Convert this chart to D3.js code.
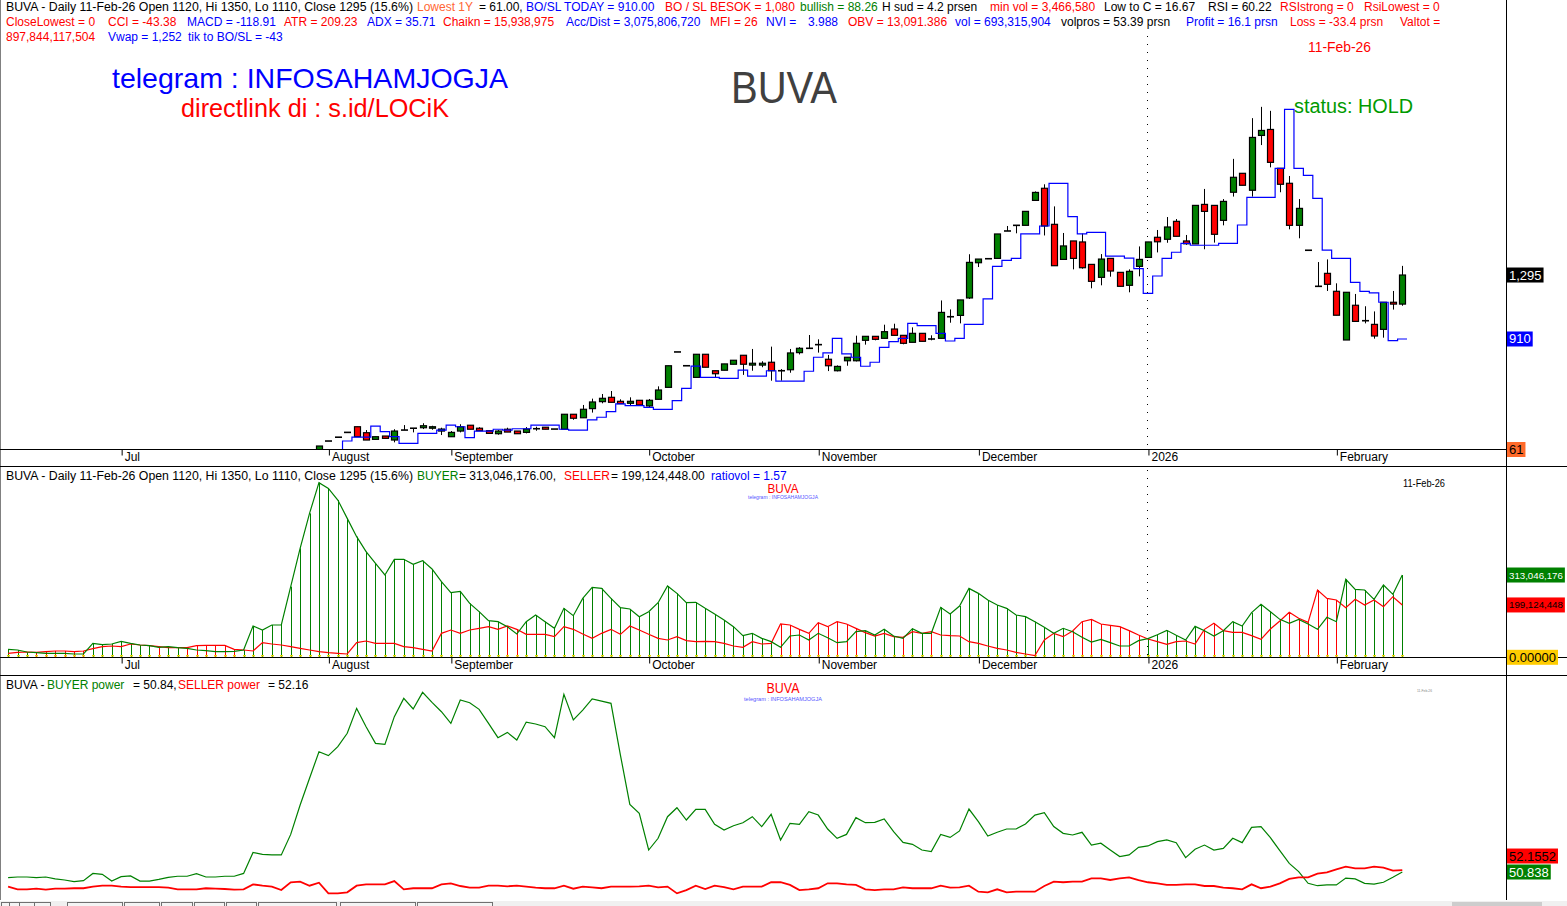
<!DOCTYPE html>
<html><head><meta charset="utf-8">
<script src="https://cdn.jsdelivr.net/npm/d3@7/dist/d3.min.js"></script>
<style>
html,body{margin:0;padding:0;background:#fff;}
svg{display:block;}
text{font-family:"Liberation Sans",Arial,Helvetica,sans-serif;}
</style></head>
<body><svg id="chart" width="1567" height="906"></svg>
<script>
// ---------------- DATA ----------------
const monthTicks  = [12, 34, 47, 68, 86, 103, 121, 141];
const monthLabels = ["Jul","August","September","October","November","December","2026","February"];

// candles: first visible bar index
const candleStart = 33;
const openP  = [240,296,319,348,382,346,306,326,302,362,373,376,373,356,322,356,391,373,358,340,367,356,348,370,379,368,367,457,436,491,533,559,535,523,541,507,547,619,832,749,679,818,719,722,758,812,753,753,770,719,725,828,854,876,788,719,779,779,902,926,914,970,932,890,944,910,914,1044,1052,1157,1369,1393,1395,1560,1594,1594,1744,1817,1600,1389,1500,1494,1359,1281,1395,1311,1233,1347,1401,1522,1510,1618,1500,1482,1720,1714,1624,1793,1907,1805,2135,2171,1937,1847,1594,1444,1227,1305,1197,904,1113,1020,998,968,1131,1120];
const highP  = [266,296,319,348,382,362,322,326,367,392,373,403,388,376,356,397,391,379,358,362,376,356,380,382,379,368,457,457,513,551,579,597,547,559,541,549,625,749,832,749,818,818,719,760,782,812,850,776,864,729,850,861,934,908,814,751,800,930,926,926,996,1002,932,980,944,932,1142,1088,1145,1420,1391,1393,1542,1590,1594,1678,1798,1841,1708,1548,1500,1545,1359,1421,1395,1311,1329,1467,1494,1566,1644,1632,1536,1714,1813,1714,1752,1994,1907,2239,2307,2283,1937,1891,1752,1444,1373,1389,1245,1191,1181,1107,1076,1131,1199,1350];
const lowP   = [240,296,319,348,322,302,306,312,288,362,348,368,364,332,322,348,367,358,342,334,350,340,342,358,367,368,367,424,436,467,523,529,521,511,513,495,547,619,832,749,679,740,679,722,758,694,719,740,659,659,707,817,854,828,717,715,749,775,876,902,914,932,878,890,896,902,914,1008,1004,1151,1343,1393,1395,1560,1546,1594,1744,1533,1351,1389,1329,1333,1215,1233,1285,1227,1191,1287,1401,1431,1489,1528,1477,1482,1450,1490,1594,1767,1835,1767,2077,1943,1793,1570,1516,1444,1227,1199,1053,904,1016,1004,912,918,1087,1110];
const closeP = [266,296,319,348,322,302,322,312,356,362,373,388,382,368,348,382,367,358,342,356,350,340,368,370,367,368,457,433,487,531,553,529,521,535,513,541,603,749,832,749,818,740,701,760,782,758,764,764,719,719,826,854,854,876,749,745,800,884,926,908,954,932,884,944,896,910,1070,1044,1145,1371,1391,1393,1542,1560,1594,1678,1792,1590,1351,1470,1395,1339,1257,1391,1319,1227,1317,1389,1494,1495,1584,1528,1483,1714,1678,1540,1738,1883,1835,2123,2165,1973,1841,1594,1696,1444,1227,1239,1053,1191,1016,1020,928,1131,1120,1295];

// trailing BO/SL line, from bar index stopStart
const stopStart = 35;
const stopLine = [240,296,319,319,386,352,322,282,282,342,
342,362,392,382,316,356,356,367,362,370,
370,392,392,392,367,362,362,423,439,473,
519,509,509,499,487,487,539,613,747,679,
679,673,673,723,687,687,719,657,657,657,
716,800,826,914,820,800,746,770,860,894,
914,1004,990,990,944,898,914,998,998,1151,
1347,1383,1395,1542,1542,1590,1847,1847,1646,1542,
1552,1552,1409,1409,1397,1333,1185,1289,1395,1432,
1486,1474,1474,1474,1486,1486,1596,1762,1762,1762,
1937,2292,1937,1895,1756,1445,1395,1395,1251,1197,
1187,1131,900,910];

// BUYER / SELLER volume (millions)
const buyerVol = [30.3,27.8,20.2,17.6,15.1,15.1,15.1,12.6,12.6,53.1,
48.1,50.6,60.7,53.1,46.8,44.3,37.9,40.4,36.6,34.1,
27.8,25.2,21.4,21.4,22.7,27.8,119.1,103.8,122.9,122.9,
268.7,414.5,547.6,664.3,642.7,598.4,528.6,458.9,401.8,357.4,
313.1,372.7,372.7,353.6,367.6,335.9,287.7,245.9,250.9,205.3,
173.6,139.4,135.5,116.5,88.6,135.5,160.9,135.5,110.2,186.3,
158.4,224.3,266.2,262.3,224.3,188.8,183.7,154.6,173.6,207.8,
271.2,243.3,207.8,209.1,186.3,164.7,141.9,116.5,82.3,91.2,
72.1,59.5,37.9,81.0,84.8,65.8,91.2,74.7,55.7,59.5,
97.5,101.3,84.8,106.4,81.0,72.1,108.9,91.2,91.2,190.1,
164.7,195.1,262.3,243.3,218.0,198.9,186.3,160.9,154.6,135.5,
114.0,91.2,110.3,97.5,76.0,58.2,68.3,55.7,43.0,43.0,
63.3,70.9,86.0,102.6,83.6,65.8,117.8,101.3,81.0,101.3,
135.5,119.1,169.8,201.4,173.6,144.4,129.2,144.4,126.7,106.4,
152.1,135.5,296.6,258.6,256.0,220.6,275.0,239.6,313.046];
const sellerVol = [15.1,18.9,20.2,18.9,21.4,24.0,24.0,21.4,24.0,32.8,
40.4,43.0,40.4,50.6,46.8,44.3,40.4,36.6,36.6,36.6,
44.3,45.5,45.5,45.5,30.3,27.8,24.0,55.7,50.6,46.8,
40.4,34.1,27.8,21.4,17.6,15.1,12.6,55.7,62.0,53.1,
53.1,53.1,40.4,36.6,30.3,24.0,91.2,103.8,91.2,103.8,
110.2,116.5,106.4,119.1,106.4,87.4,87.4,87.4,78.5,116.5,
106.4,88.6,72.1,91.2,106.4,87.4,119.1,103.8,87.4,72.1,
65.8,78.5,63.3,59.5,60.7,59.5,53.1,43.0,37.9,59.5,
50.6,53.1,126.7,122.9,106.4,91.2,131.7,116.5,135.5,126.7,
110.2,93.7,81.0,91.2,78.5,76.0,97.5,91.2,97.5,84.8,
82.3,81.0,59.5,53.1,43.0,34.1,27.8,18.9,12.6,6.2,
65.8,91.2,78.5,100.0,135.5,144.4,126.7,121.6,116.5,101.3,
84.8,69.6,59.5,49.3,59.5,62.0,50.6,106.4,129.2,101.3,
95.0,95.0,82.3,68.3,107.6,138.0,171.1,148.3,133.0,256.0,
224.3,217.9,188.7,220.6,198.9,217.9,192.5,230.5,199.124];

// BUYER power / SELLER power
const buyerPower = [47.1,47.5,47.5,47.1,47.5,46.2,45.5,44.4,45.1,49.9,
49.3,44.8,47.7,48.2,44.8,44.8,45.9,47.3,48.0,48.0,
49.7,47.5,47.5,48.0,48.0,49.9,63.9,62.6,62.2,62.2,
75.9,95.5,113.3,131.0,128.4,134.4,143.3,159.9,147.7,136.6,
135.9,154.4,166.6,159.5,170.6,163.9,157.7,149.9,165.5,163.7,
159.3,149.9,140.4,143.9,138.8,150.8,149.5,147.7,140.4,169.3,
152.2,158.8,166.2,164.8,163.3,128.8,95.9,89.9,65.5,73.3,
87.7,93.7,85.5,92.6,92.6,82.6,78.8,81.7,83.7,87.7,
81.1,89.3,72.2,83.3,82.6,91.1,88.8,79.5,73.3,75.9,
87.1,83.7,83.9,86.2,77.7,70.6,69.3,65.5,64.4,75.9,
73.9,78.2,92.8,84.4,74.8,77.3,79.5,79.5,82.8,88.8,
90.4,81.1,76.6,75.5,77.3,68.8,70.0,65.5,61.1,62.2,
67.3,68.2,71.1,72.2,70.4,60.4,66.0,68.8,65.5,66.6,
73.3,70.4,80.6,81.1,73.7,65.1,56.6,51.1,43.3,41.7,
42.2,42.2,46.8,46.2,43.3,42.8,44.0,47.3,50.838];
const sellerPower = [41.1,39.3,39.3,39.7,39.1,39.7,39.7,40.0,40.0,41.1,
41.7,41.7,41.1,40.8,40.8,40.8,40.8,40.4,39.3,39.3,
39.3,40.0,39.7,39.5,39.1,39.3,42.6,41.7,41.1,38.8,
44.0,44.4,41.7,43.7,36.6,36.6,37.3,41.7,42.6,42.6,
42.6,44.8,39.3,40.0,40.0,40.0,42.6,43.3,41.5,40.4,
40.4,41.7,41.7,41.3,41.7,41.1,40.4,40.0,40.0,41.7,
39.7,41.1,40.6,40.0,41.1,41.1,41.1,41.3,41.7,40.6,
41.1,36.6,38.8,41.7,39.5,41.7,40.8,39.3,41.1,41.1,
41.1,44.0,44.0,42.2,38.8,39.3,40.0,43.3,43.3,42.6,
42.2,39.3,38.8,39.3,39.3,40.6,40.0,40.0,40.0,41.7,
40.4,40.6,41.7,37.7,37.3,39.3,37.3,37.7,37.7,37.7,
41.5,44.4,44.0,44.4,44.4,46.6,46.6,45.5,46.6,47.3,
45.5,44.0,43.3,42.2,42.2,42.6,42.6,41.5,41.5,40.4,
40.0,39.3,42.6,40.0,41.1,43.3,46.2,47.3,47.3,49.7,
50.6,52.6,54.4,53.3,53.3,54.4,53.7,51.7,52.1552];

const lastClose = 1295, bosl = 910, lowest1Y = 61;
const buyerLast = "313,046,176", sellerLast = "199,124,448";

// ---------------- CHART ----------------
const GREEN = "#008000", RED = "#ff0000", BLUE = "#0000ff";
const HF = 12; // header font size
const svg = d3.select("#chart");
const N = buyerVol.length;

const x = d3.scaleLinear().domain([0, N - 1]).range([8.1, 1402.3]);
const yTop = d3.scaleLinear().domain([248, 2950]).range([449, 0]);
const yMid = d3.scaleLinear().domain([0, 700]).range([657.3, 473.3]);
const yBot = d3.scaleLinear().domain([50.838, 150.838]).range([872, 722]);

const defs = svg.append("defs");
defs.append("clipPath").attr("id","clipTop").append("rect").attr("x",0).attr("y",0).attr("width",1506).attr("height",449);
defs.append("clipPath").attr("id","clipMid").append("rect").attr("x",0).attr("y",467).attr("width",1506).attr("height",190.5);
defs.append("clipPath").attr("id","clipBot").append("rect").attr("x",0).attr("y",676).attr("width",1506).attr("height",224);

function txt(xp, yp, s, color, size, extra) {
  const t = svg.append("text").attr("x", xp).attr("y", yp).attr("fill", color)
    .attr("font-size", size).text(s);
  if (extra) {
    if (extra.len) t.attr("textLength", extra.len).attr("lengthAdjust","spacingAndGlyphs");
    if (extra.anchor) t.attr("text-anchor", extra.anchor);
  }
  return t;
}

// ---- header text lines ----
const header = [
 [11, [[6,"#000","BUVA - Daily 11-Feb-26 Open 1120, Hi 1350, Lo 1110, Close 1295 (15.6%)",407],
       [417,"#ff6633","Lowest 1Y"],[479,"#000","= 61.00,"],[526,BLUE,"BO/SL TODAY = 910.00"],
       [665,RED,"BO / SL BESOK  = 1,080"],[800,GREEN,"bullish = 88.26"],[882,"#000","H sud = 4.2 prsen"],
       [990,RED,"min vol = 3,466,580"],[1104,"#000","Low to C  = 16.67"],[1208,"#000","RSI = 60.22"],
       [1280,RED,"RSIstrong = 0"],[1364,RED,"RsiLowest = 0"]]],
 [26, [[6,RED,"CloseLowest = 0"],[108,RED,"CCI = -43.38"],[187,BLUE,"MACD = -118.91"],[284,RED,"ATR = 209.23"],
       [367,BLUE,"ADX = 35.71"],[443,RED,"Chaikn = 15,938,975"],[566,BLUE,"Acc/Dist = 3,075,806,720"],
       [710,RED,"MFI = 26"],[766,BLUE,"NVI ="],[808,BLUE,"3.988"],[848,RED,"OBV = 13,091.386"],
       [955,BLUE,"vol = 693,315,904"],[1061,"#000","volpros = 53.39 prsn"],[1186,BLUE,"Profit = 16.1 prsn"],
       [1290,RED,"Loss = -33.4 prsn"],[1400,RED,"Valtot ="]]],
 [41, [[6,RED,"897,844,117,504"],[108,BLUE,"Vwap = 1,252"],[188,BLUE,"tik to BO/SL = -43"]]]
];
header.forEach(([yy, segs]) => segs.forEach(([xx, c, s, L]) => txt(xx, yy, s, c, HF, L ? {len: L} : null)));

txt(112, 88, "telegram : INFOSAHAMJOGJA", BLUE, 28, {len: 396});
txt(181, 117, "directlink di : s.id/LOCiK", RED, 25, {len: 268});
txt(731, 103, "BUVA", "#404040", 45, {len: 106});
txt(1308, 52, "11-Feb-26", RED, 14, {len: 63});
txt(1294, 113, "status: HOLD", "#009a00", 20, {len: 119});

// ---- frame lines ----
function hline(y, x1, x2, c, w) { svg.append("line").attr("x1",x1).attr("x2",x2).attr("y1",y).attr("y2",y).attr("stroke",c||"#000").attr("stroke-width",w||1); }
function vline(xx, y1, y2, c, w, dash) { const l = svg.append("line").attr("x1",xx).attr("x2",xx).attr("y1",y1).attr("y2",y2).attr("stroke",c||"#000").attr("stroke-width",w||1); if (dash) l.attr("stroke-dasharray",dash); return l; }

vline(0.5, 0, 900, "#808080");
vline(1506.5, 0, 900);
hline(449.5, 0, 1506);
hline(466.5, 0, 1567);
hline(657.5, 0, 1567);
hline(675.5, 0, 1567);

// year separator dotted line
const sepX = Math.round(x(monthTicks[6])) - 0.5;
vline(sepX, 36, 449, "#000", 1, "1,7");
vline(sepX, 470, 657, "#000", 1, "1,7");

// ---- axes ----
function monthAxis(yy) {
  const g = svg.append("g").attr("transform", `translate(0,${yy})`)
    .call(d3.axisBottom(x).tickValues(monthTicks).tickFormat((d, k) => monthLabels[k]).tickSize(6));
  g.select(".domain").remove();
  g.selectAll(".tick line").attr("stroke", "#000").attr("transform","translate(0.5,0)");
  g.selectAll(".tick text").attr("text-anchor","start").attr("x", 3).attr("y", 2.5)
    .attr("fill","#000").attr("font-size", 12)
    .attr("font-family", '"Liberation Sans",Arial,sans-serif');
}
monthAxis(449.5);
monthAxis(657.5);

// ---- candles ----
const candles = openP.map((o, k) => ({i: candleStart + k, o, h: highP[k], l: lowP[k], c: closeP[k]}));
const gTop = svg.append("g").attr("clip-path","url(#clipTop)");
gTop.selectAll("line.wick").data(candles).join("line").attr("class","wick")
  .attr("x1", d => Math.round(x(d.i)) + 0.5).attr("x2", d => Math.round(x(d.i)) + 0.5)
  .attr("y1", d => yTop(d.h)).attr("y2", d => yTop(d.l)).attr("stroke","#000");
gTop.selectAll("rect.body").data(candles.filter(d => d.o !== d.c)).join("rect").attr("class","body")
  .attr("x", d => Math.round(x(d.i)) - 2.5).attr("width", 6)
  .attr("y", d => yTop(Math.max(d.o, d.c))).attr("height", d => Math.abs(yTop(d.o) - yTop(d.c)))
  .attr("fill", d => d.c > d.o ? GREEN : RED).attr("stroke","#000").attr("stroke-width",1.2);
gTop.selectAll("line.doji").data(candles.filter(d => d.o === d.c)).join("line").attr("class","doji")
  .attr("x1", d => Math.round(x(d.i)) - 3).attr("x2", d => Math.round(x(d.i)) + 4)
  .attr("y1", d => yTop(d.c)).attr("y2", d => yTop(d.c)).attr("stroke","#000").attr("stroke-width",1.6);

// stop line (staircase centred on each bar)
const stopPts = stopLine.map((v, k) => [stopStart + k - 0.5, v]);
stopPts.push([stopStart + stopLine.length - 0.5, stopLine[stopLine.length - 1]]);
gTop.append("path").datum(stopPts)
  .attr("d", d3.line().x(d => x(d[0])).y(d => yTop(d[1])).curve(d3.curveStepAfter))
  .attr("fill","none").attr("stroke", BLUE).attr("stroke-width", 1.2);

// ---- middle panel: buyer / seller volume ----
const gMid = svg.append("g").attr("clip-path","url(#clipMid)");
const idx = d3.range(N);
gMid.selectAll("line.bar").data(idx).join("line").attr("class","bar")
  .attr("x1", i => Math.round(x(i)) + 0.5).attr("x2", i => Math.round(x(i)) + 0.5)
  .attr("y1", yMid(0)).attr("y2", i => yMid(Math.max(buyerVol[i], sellerVol[i])))
  .attr("stroke", i => buyerVol[i] >= sellerVol[i] ? GREEN : RED).attr("stroke-width", 1);
gMid.selectAll("line.yel").data(idx).join("line").attr("class","yel")
  .attr("x1", i => Math.round(x(i)) - 1).attr("x2", i => Math.round(x(i)) + 2)
  .attr("y1", yMid(0) - 1.5).attr("y2", yMid(0) - 1.5).attr("stroke","#e8d800").attr("stroke-width",1.5);
const lineMid = arr => d3.line().x((d, i) => x(i)).y(d => yMid(d))(arr);
gMid.append("path").attr("d", lineMid(sellerVol)).attr("fill","none").attr("stroke", RED).attr("stroke-width",1.2);
gMid.append("path").attr("d", lineMid(buyerVol)).attr("fill","none").attr("stroke", GREEN).attr("stroke-width",1.2);

// ---- bottom panel: power ----
const gBot = svg.append("g").attr("clip-path","url(#clipBot)");
const lineBot = arr => d3.line().x((d, i) => x(i)).y(d => yBot(d))(arr);
gBot.append("path").attr("d", lineBot(buyerPower)).attr("fill","none").attr("stroke", GREEN).attr("stroke-width",1.2);
gBot.append("path").attr("d", lineBot(sellerPower)).attr("fill","none").attr("stroke", RED).attr("stroke-width",1.8);

// ---- panel titles ----
txt(6, 480, "BUVA - Daily 11-Feb-26 Open 1120, Hi 1350, Lo 1110, Close 1295 (15.6%)", "#000", HF, {len: 407});
txt(417, 480, "BUYER", GREEN, HF);
txt(459, 480, "= " + buyerLast + ".00,", "#000", HF);
txt(564, 480, "SELLER", RED, HF);
txt(611, 480, "= " + sellerLast + ".00", "#000", HF);
txt(711, 480, "ratiovol = 1.57", BLUE, HF);
txt(783, 492.5, "BUVA", RED, 13.5, {anchor:"middle", len: 31});
txt(783, 498.5, "telegram : INFOSAHAMJOGJA", "#5555ff", 5, {anchor:"middle", len: 70});
txt(1403, 487, "11-Feb-26", "#000", 10, {len: 42});

txt(6, 689, "BUVA - ", "#000", HF);
txt(47, 689, "BUYER power", GREEN, HF);
txt(133, 689, "= 50.84,", "#000", HF);
txt(178, 689, "SELLER power", RED, HF);
txt(268, 689, "= 52.16", "#000", HF);
txt(783, 693, "BUVA", RED, 14, {anchor:"middle", len: 33});
txt(783, 701, "telegram : INFOSAHAMJOGJA", "#5555ff", 5, {anchor:"middle", len: 78});
txt(1417, 692, "11-Feb-26", "#888", 4, {len: 15});

// ---- right value tags (font shrunk to fit the margin) ----
function tag(yc, s, bg, fg) {
  const g = svg.append("g");
  const t = g.append("text").attr("x", 1509).attr("y", yc + 4.5).attr("fill", fg).attr("font-size", 13).text(s);
  let w = t.node().getComputedTextLength();
  const maxW = 54;
  if (w > maxW) {
    const fs = 13 * maxW / w;
    t.attr("font-size", fs).attr("y", yc + fs * 0.36);
    w = t.node().getComputedTextLength();
  }
  g.insert("rect","text").attr("x", 1507).attr("y", yc - 7.5).attr("width", w + 4).attr("height", 15).attr("fill", bg);
}
tag(yTop(lastClose), d3.format(",")(lastClose), "#000", "#fff");
tag(yTop(bosl), String(bosl), BLUE, "#fff");
tag(449.5, String(lowest1Y), "#ff6a2a", "#000");
tag(yMid(313.046), buyerLast, GREEN, "#fff");
tag(yMid(199.124), sellerLast, RED, "#000");
tag(yMid(0), "0.00000", "#ffcc00", "#000");
tag(yBot(52.1552) - 14, "52.1552", RED, "#000");
tag(yBot(50.838), "50.838", GREEN, "#fff");

// ---- bottom tab strip ----
svg.append("rect").attr("x",0).attr("y",901).attr("width",1567).attr("height",5).attr("fill","#f0f0f0");
[[1,9],[9,19],[19,34],[34,50],[67,122],[124,159],[161,192],[194,224],[226,256],[258,336],[340,415],[417,492]]
  .forEach(([a,b]) => svg.append("rect").attr("x",a+0.5).attr("y",902.5).attr("width",b-a).attr("height",6)
    .attr("fill","#f4f4f4").attr("stroke","#707070"));
svg.append("rect").attr("x",1452).attr("y",902).attr("width",90).attr("height",4).attr("fill","#cdcdcd");
</script></body></html>
